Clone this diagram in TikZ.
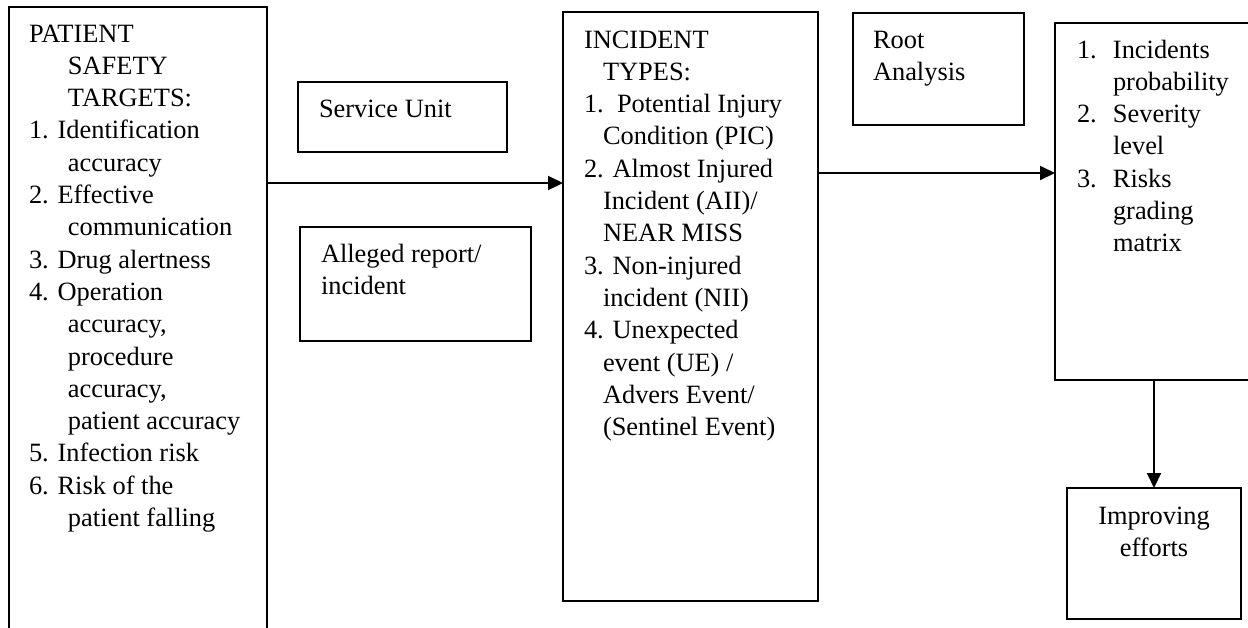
\documentclass[tikz,border=0pt]{standalone}
\usepackage{fontspec}
\setmainfont{Liberation Serif}
\usetikzlibrary{arrows.meta}
\newcommand\indL{\hspace*{19.5pt}}
\newcommand\indM{\hspace*{9.5pt}}
\newcommand\indR{\hspace*{18pt}}
\newcommand\numR[1]{\makebox[18pt][l]{#1}}
\begin{document}
\begin{tikzpicture}[x=0.5pt,y=-0.5pt,
  box/.style={draw, line width=0.6pt, inner sep=0pt, outer sep=0pt},
  txt/.style={anchor=base west, inner sep=0pt, outer sep=0pt,
    font=\fontsize{13.2pt}{16.15pt}\selectfont},
  arr/.style={line width=1pt, -{Triangle[length=7.5pt,width=7pt]}}]
\useasboundingbox (0,0) rectangle (1248,627);

% boxes
\node[box, minimum width=129pt, minimum height=316.5pt] (pst) at (138,323.5) {};
\node[box, minimum width=104.5pt, minimum height=35pt] (su) at (402.5,117) {};
\node[box, minimum width=115.5pt, minimum height=57pt] (ar) at (415.5,284) {};
\node[box, minimum width=127.5pt, minimum height=294.5pt] (it) at (690.5,306.5) {};
\node[box, minimum width=85.5pt, minimum height=56pt] (ra) at (938.5,69) {};
\node[box, minimum width=102.5pt, minimum height=178.5pt] (rg) at (1157.5,201.5) {};
\node[box, minimum width=87pt, minimum height=65.5pt] (ie) at (1154,553.5) {};

% texts
\node[txt] (pstT) at (29,42) {\parbox[t]{200pt}{%
PATIENT\\
\indL SAFETY\\
\indL TARGETS:\\
1. Identification\\
\indL accuracy\\
2. Effective\\
\indL communication\\
3. Drug alertness\\
4. Operation\\
\indL accuracy,\\
\indL procedure\\
\indL accuracy,\\
\indL patient accuracy\\
5. Infection risk\\
6. Risk of the\\
\indL patient falling}};

\node[txt] (suT) at (319,117) {Service Unit};
\node[txt] (arT) at (321,262) {\parbox[t]{200pt}{Alleged report/\\incident}};

\node[txt] (itT) at (584,48) {\parbox[t]{200pt}{%
INCIDENT\\
\indM TYPES:\\
1.\ \ Potential Injury\\
\indM Condition (PIC)\\
2. Almost Injured\\
\indM Incident (AII)/\\
\indM NEAR MISS\\
3. Non-injured\\
\indM incident (NII)\\
4. Unexpected\\
\indM event (UE) /\\
\indM Advers Event/\\
\indM (Sentinel Event)}};

\node[txt] (raT) at (873,48) {\parbox[t]{200pt}{Root\\Analysis}};

\node[txt] (rgT) at (1077,58) {\parbox[t]{200pt}{%
\numR{1.}Incidents\\
\indR probability\\
\numR{2.}Severity\\
\indR level\\
\numR{3.}Risks\\
\indR grading\\
\indR matrix}};

\node[txt, anchor=base] (ieT) at (1154,524) {\parbox[t]{80pt}{\centering Improving\\efforts}};

% connectors
\coordinate (y1) at (0,183);
\coordinate (y2) at (0,173);
\draw[arr] (pst.east |- y1) -- (it.west |- y1);
\draw[arr] (it.east |- y2) -- (rg.west |- y2);
\draw[arr] (rg.south -| ie.north) -- (ie.north);
\end{tikzpicture}
\end{document}
